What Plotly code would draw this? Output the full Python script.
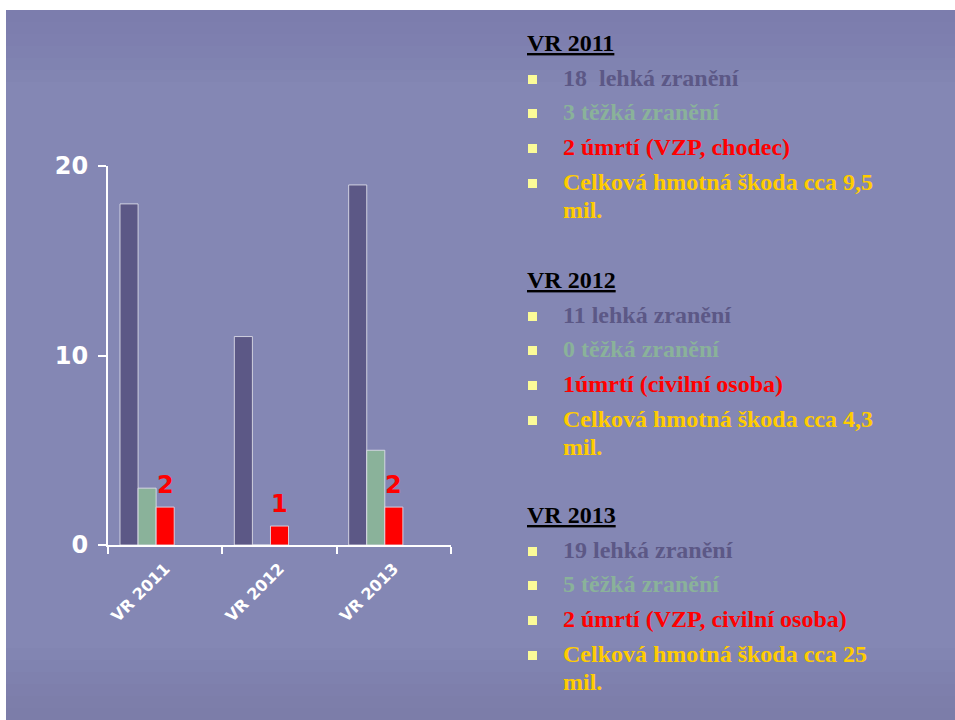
import plotly.graph_objects as go

# ---- data ----
categories = ["VR 2011", "VR 2012", "VR 2013"]
lehka = [18, 11, 19]
tezka = [3, 0, 5]
umrti = [2, 1, 2]
y_ticks = [0, 10, 20]

headings = ["VR 2011", "VR 2012", "VR 2013"]
lehka_txt = ["18  lehká zranění", "11 lehká zranění", "19 lehká zranění"]
tezka_txt = ["3 těžká zranění", "0 těžká zranění", "5 těžká zranění"]
umrti_txt = ["2 úmrtí (VZP, chodec)", "1úmrtí (civilní osoba)", "2 úmrtí (VZP, civilní osoba)"]
skoda_txt = ["Celková hmotná škoda cca 9,5", "Celková hmotná škoda cca 4,3", "Celková hmotná škoda cca 25"]
mil_txt = ["mil.", "mil.", "mil."]

# ---- layout geometry (pixels) ----
W, H = 955, 720
PL, PR, PT, PB = 108, 451, 166, 545


def px(x):
    return (x - PL) / (PR - PL)


def py(y):
    return (PB - y) / (PB - PT)


C_DARK = "#5c5886"
C_GREEN = "#8ab29a"
C_RED = "#ff0000"
C_YEL = "#ffcc00"
BAR_W = 0.158

fig = go.Figure()
series = [(lehka, C_DARK, -0.395), (tezka, C_GREEN, -0.237), (umrti, C_RED, -0.079)]
for vals, col, off in series:
    fig.add_trace(go.Bar(
        x=categories, y=vals, width=BAR_W, offset=off,
        marker=dict(color=col, line=dict(color="rgba(225,225,235,0.85)", width=1)),
        cliponaxis=False,
        hoverinfo="skip",
    ))

shapes = []
# slide background
shapes.append(dict(type="rect", xref="paper", yref="paper", x0=px(6), x1=px(W + 5), y0=py(10), y1=py(H + 5),
                   fillcolor="#8487b4", line=dict(width=0), layer="below"))
# darker top and bottom bands to mimic gradient
for k in range(6):
    shapes.append(dict(type="rect", xref="paper", yref="paper", x0=px(6), x1=px(W + 5),
                       y0=py(10), y1=py(10 + 12 * (k + 1)),
                       fillcolor="rgba(110,110,160,0.08)", line=dict(width=0), layer="below"))
    shapes.append(dict(type="rect", xref="paper", yref="paper", x0=px(6), x1=px(W + 5),
                       y0=py(H + 5), y1=py(H - 12 * (k + 1)),
                       fillcolor="rgba(110,110,160,0.07)", line=dict(width=0), layer="below"))

annotations = []
# value labels above the red bars
for c, v in zip(categories, umrti):
    annotations.append(dict(
        x=c, y=v, xref="x", yref="y", xanchor="center", yanchor="bottom",
        yshift=6, showarrow=False, text=str(v),
        font=dict(family="DejaVu Sans", size=24, color=C_RED, weight="bold"),
    ))

SERIF = "Liberation Serif"
FS = 24
block_tops = [43, 280, 515]
offsets = [0, 35, 69, 104, 139, 167]
for b in range(3):
    y0 = block_tops[b]
    rows = [
        (headings[b], "#000000", True, False),
        (lehka_txt[b], C_DARK, False, True),
        (tezka_txt[b], C_GREEN, False, True),
        (umrti_txt[b], C_RED, False, True),
        (skoda_txt[b], C_YEL, False, True),
        (mil_txt[b], C_YEL, False, False),
    ]
    for (txt, col, head, bullet), off in zip(rows, offsets):
        yc = y0 + off
        annotations.append(dict(
            x=px(525 if head else 561), y=py(yc), xref="paper", yref="paper",
            xanchor="left", yanchor="middle", showarrow=False,
            text=f"<u>{txt}</u>" if head else txt,
            font=dict(family=SERIF, size=FS, color=col, weight="bold"),
        ))
        if bullet:
            shapes.append(dict(type="rect", xref="paper", yref="paper",
                               x0=px(528), x1=px(537), y0=py(yc - 3), y1=py(yc + 6),
                               fillcolor="#fbfb98", line=dict(width=0)))

fig.update_layout(
    width=W, height=H,
    margin=dict(l=PL, r=W - PR, t=PT, b=H - PB, pad=0),
    paper_bgcolor="white", plot_bgcolor="rgba(0,0,0,0)",
    barmode="overlay", showlegend=False,
    shapes=shapes, annotations=annotations,
    xaxis=dict(
        type="category", range=[-0.5, 2.5], showgrid=False, zeroline=False,
        showline=True, linecolor="white", linewidth=2,
        ticks="outside", tickson="boundaries", ticklen=7, tickwidth=2, tickcolor="white",
        tickangle=-45, ticklabelstandoff=6,
        tickfont=dict(family="DejaVu Sans", size=16, color="white", weight="bold"),
    ),
    yaxis=dict(
        range=[0, 20], tickvals=y_ticks, showgrid=False, zeroline=False,
        showline=True, linecolor="white", linewidth=2,
        ticks="outside", ticklen=8, tickwidth=2, tickcolor="white",
        ticklabelstandoff=5,
        tickfont=dict(family="DejaVu Sans", size=24, color="white", weight="bold"),
    ),
)

fig.write_html("out.html")
